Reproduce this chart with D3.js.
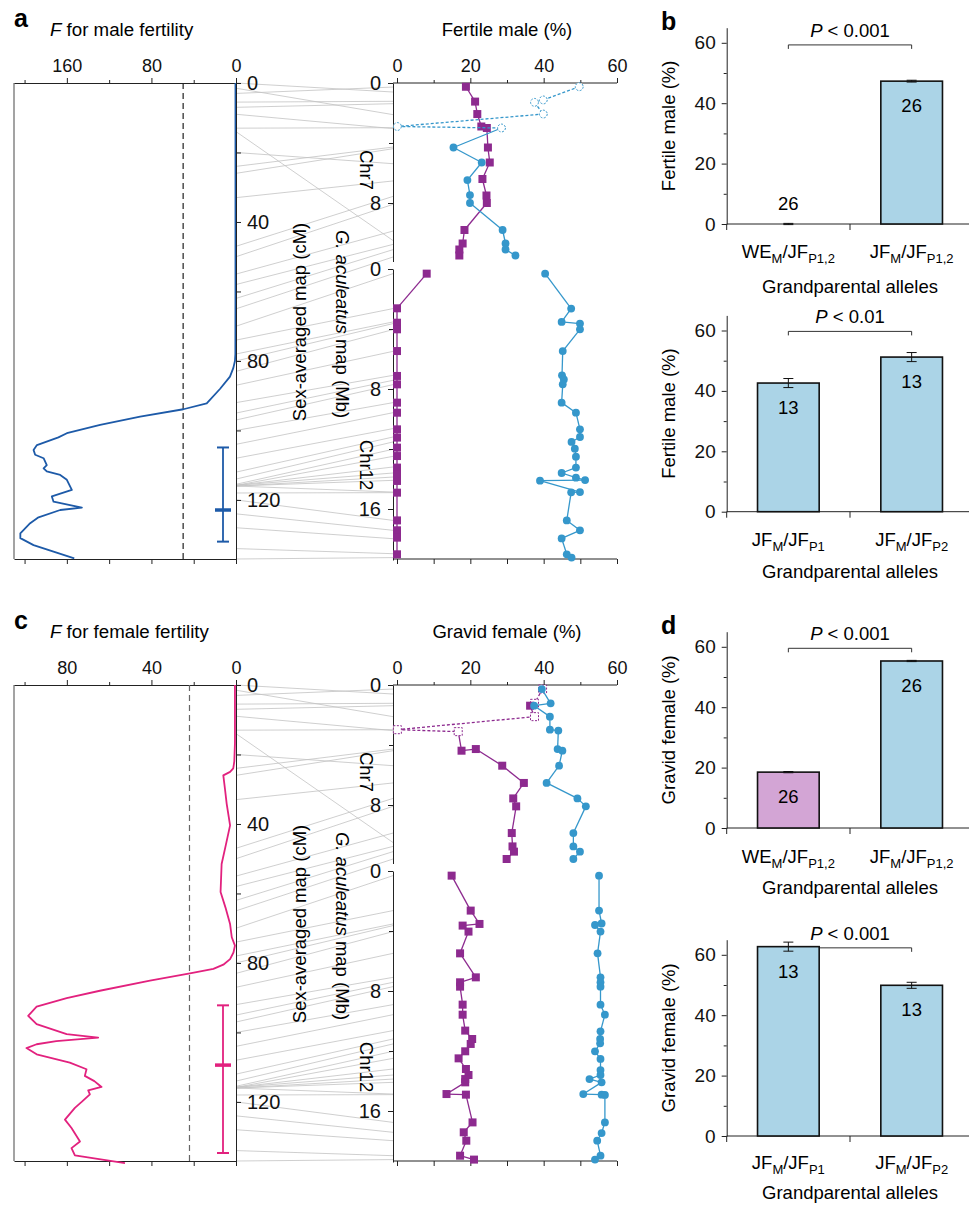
<!DOCTYPE html>
<html>
<head>
<meta charset="utf-8">
<script src="https://cdn.jsdelivr.net/npm/d3@7"></script>
<style>
  body { margin: 0; background: #fff; }
  svg { font-family: "Liberation Sans", Arial, Helvetica, sans-serif; }
</style>
</head>
<body>
<svg id="fig" width="969" height="1205"></svg>
<script>
// ---------- data ----------
// F statistic along the sex-averaged map: [cM, F]
const maleF = [[0,0.5],[20,0.5],[40,0.5],[60,0.5],[78,0.6],[80,1],[82,2.5],[84.5,5.7],[88,15],[92.2,27.7],[93.9,49.8],[96,90.7],[98.4,128.5],[100.8,160],[102,168],[104.2,188.3],[105.6,191.5],[107,190],[108,182],[110,179],[110.9,182],[111.8,179],[112.8,166.3],[114.2,160],[117.1,155.3],[119,174.2],[120.5,172.6],[122.2,145.8],[122.9,166.3],[125,186.8],[126.7,194.7],[129.6,204],[131,204],[133,191.5],[134.9,172.6],[136.8,153]];
const maleThreshold = 50;
const maleInterval = [104.9, 122.9, 132];   // low, peak, high (cM)

const femaleF = [[0,0.5],[16.8,0.5],[22,0.8],[24,1.3],[25,2.8],[26,6],[30,5.2],[34.2,4.4],[40.4,2.8],[46,4.8],[51.5,6.8],[59.6,7.3],[64,5],[68.8,2.8],[72.6,2.0],[75,0.5],[77,1.2],[78.9,2.8],[80.5,6],[81.7,10.7],[83,21.8],[85.1,40.7],[88,64.4],[90.1,80.1],[92.6,94.3],[95.2,98.3],[97.6,94.3],[100.5,80.1],[101.5,65.2],[102.5,85],[103.4,94.3],[104.5,99.1],[106.3,94.3],[108.7,78.6],[110.6,70.7],[112.5,71.5],[114,67],[115.7,63.6],[116.7,69.9],[117.8,69.1],[120,73],[121.7,76.2],[125.1,80.9],[127.5,77.8],[131.4,73.8],[133.3,77.8],[135.4,76.2],[137.6,52.5]];
const femaleThreshold = 22;
const femaleInterval = [92.2, 109.4, 134.7];

// markers: [Mb, cM]
const chr7Markers = [[0.27,3],[0.6,0],[1.22,5.5],[1.38,7],[2.11,1.5],[2.98,13],[3.04,9],[4.27,24],[4.38,26],[5.38,20],[6.53,33],[7.56,47],[8.09,50],[9.87,55],[10.5,14],[10.76,58],[11.11,62],[11.6,65]];
const chr12Markers = [[0.31,70],[2.64,74],[3.53,78],[3.64,80],[4.04,83],[5.49,87],[7.09,92],[7.42,95],[7.71,97],[8.91,100],[9.58,104],[10.64,108],[11.2,112],[11.53,114],[12.02,115.5],[12.49,115.8],[13.2,115.8],[13.6,115.8],[13.87,116],[14.09,116],[14.87,116],[14.91,118],[16.76,120],[17.42,124],[17.98,128],[18.98,134],[19.24,137]];

// fertile male (%) per marker: [Mb, %, open]
const maleChr7Sq = [[0.25,18.8],[1.24,21.3],[2.07,21.9],[2.9,23.0],[3.0,24.5],[4.3,24.8],[5.3,25.3],[6.4,23.3],[7.5,24.4],[8.0,24.5],[9.8,18.4],[10.7,17.9],[11.1,17.0],[11.5,17.0]];
const maleChr7Ci = [[0.25,49.7,1],[1.13,39.9,1],[1.29,37.5,1],[2.07,39.9,1],[2.9,0.1,1],[3.0,28.5,1],[4.3,15.4],[5.3,23.1],[6.47,19.2],[7.47,19.9],[8.0,19.9],[9.8,28.8],[10.7,29.6],[11.1,29.6],[11.5,32.3]];
const maleChr12Sq = [[0.31,8.1],[2.62,0],[3.58,0],[4.02,0],[5.47,0],[7.13,0],[7.69,0],[8.91,0],[9.58,0],[10.69,0],[11.24,0],[11.91,0],[12.47,0],[13.24,0],[13.69,0],[14.13,0],[14.91,0],[16.76,0],[17.42,0],[17.91,0],[19.02,0]];
const maleChr12Ci = [[0.31,40.4],[2.64,47.5],[3.53,44.9],[3.64,49.9],[4.02,49.9],[5.47,45.2],[7.09,45.0],[7.36,45.5],[7.69,45.2],[8.91,44.9],[9.58,48.8],[10.69,49.9],[11.2,49.9],[11.53,47.6],[11.98,48.5],[12.51,48.8],[13.24,48.8],[13.6,44.9],[13.91,48.8],[14.07,51.3],[14.11,39.0],[14.87,49.9],[14.89,47.5],[16.76,46.3],[17.42,49.9],[17.96,44.9],[19.02,46.3],[19.24,47.6]];

// gravid female (%) per marker
const femChr7Sq = [[0.27,39.7,1],[1.22,37.5,1],[1.38,36.3],[2.11,37.5,1],[2.98,0.1,1],[3.11,16.7,1],[4.38,17.6],[4.27,21.5],[5.38,28.7],[6.53,34.6],[7.56,31.7],[8.09,32.5],[9.87,31.3],[10.76,31.5],[11.11,31.9],[11.6,29.9]];
const femChr7Ci = [[0.27,39.5],[1.22,41.9],[1.38,37.4],[2.11,41.7],[2.98,41.7],[3.04,44.0],[4.27,43.8],[4.38,45.1],[5.38,44.2],[6.53,40.8],[7.56,49.2],[8.09,51.5],[9.87,48.1],[10.76,48.1],[11.11,49.9],[11.6,48.1]];
const femChr12Sq = [[0.31,14.9],[2.64,20.1],[3.53,22.5],[3.64,17.9],[4.04,19.5],[5.49,17.2],[7.09,21.5],[7.42,17.2],[7.71,17.2],[8.91,17.9],[9.58,17.9],[10.64,18.6],[11.2,20.5],[11.53,20.1],[12.02,18.6],[12.49,16.8],[13.2,18.8],[13.6,19.5],[13.87,18.6],[14.09,18.6],[14.87,13.5],[14.91,18.8],[16.76,20.6],[17.42,18.2],[17.98,18.9],[18.98,17.2],[19.24,21.0]];
const femChr12Ci = [[0.31,55.1],[2.64,55.1],[3.5,55.8],[3.6,54.0],[4.04,55.5],[5.49,54.7],[7.09,55.5],[7.42,55.5],[7.71,55.5],[8.91,55.5],[9.58,56.7],[10.69,55.5],[11.2,55.4],[11.49,55.4],[12.02,54.0],[12.53,55.5],[13.27,55.5],[13.6,55.5],[13.87,52.5],[14.09,55.8],[14.87,50.8],[14.91,55.8],[14.93,56.7],[16.76,56.7],[17.47,55.8],[17.98,54.6],[18.98,55.5],[19.24,54.0]];

// bar charts
const catsAll = ["WE_{M}/JF_{P1,2}", "JF_{M}/JF_{P1,2}"];
const catsJF = ["JF_{M}/JF_{P1}", "JF_{M}/JF_{P2}"];
const maleAll = [0, 47.3], maleAllErr = [0.2, 0.3], maleAllN = [26, 26];
const maleJF = [42.6, 51.2], maleJFErr = [1.5, 1.5], maleJFN = [13, 13];
const femAll = [18.5, 55.3], femAllErr = [0.2, 0.2], femAllN = [26, 26];
const femJF = [62.7, 49.9], femJFErr = [1.5, 1.0], femJFN = [13, 13];
const pLabels = ["< 0.001", "< 0.01", "< 0.001", "< 0.001"];

// ---------- drawing ----------
const svg = d3.select("#fig");
const PURPLE = "#8d2a8f", BLUE = "#3597cb";

function styleAxis(sel, size) {
  sel.attr("font-size", size).attr("font-family", null);
  sel.selectAll("path, line").attr("stroke", "#222");
  sel.selectAll("text").attr("fill", "#111");
}

function drawSeries(g, pts, ys, px, color, shape) {
  g.append("g").selectAll("line")
    .data(d3.pairs(pts))
    .enter().append("line")
    .attr("x1", d => px(d[0][1])).attr("y1", d => ys(d[0][0]))
    .attr("x2", d => px(d[1][1])).attr("y2", d => ys(d[1][0]))
    .attr("stroke", color).attr("stroke-width", 1.3)
    .attr("stroke-dasharray", d => (d[0][2] && d[1][2]) ? "3,2" : null);
  g.append("g").selectAll("path").data(pts).enter().append("path")
    .attr("transform", d => `translate(${px(d[1])},${ys(d[0])})`)
    .attr("d", shape === "square" ? "M-4,-4H4V4H-4Z" : d3.symbol(d3.symbolCircle, 48)())
    .attr("fill", d => d[2] ? "#fff" : color)
    .attr("stroke", color)
    .attr("stroke-width", d => d[2] ? 1 : 0)
    .attr("stroke-dasharray", d => d[2] ? "2,1.5" : null);
}

function mapPanel(o) {
  const g = svg.append("g");
  const top = o.top, bot = top + 476;
  const fx = d3.scaleLinear().domain([o.fMax, 0]).range([14, 236]);
  const cm = d3.scaleLinear().domain([0, 137]).range([top, bot]);
  const mb7 = d3.scaleLinear().domain([0, 11.9]).range([top, top + 178.5]);
  const mb12 = d3.scaleLinear().domain([0, 19.4]).range([top + 186, top + 477]);
  const px = d3.scaleLinear().domain([0, 60]).range([397, 617]);
  const mbX = 393;

  // connector lines between the two maps
  const links = chr7Markers.map(d => [cm(d[1]), mb7(d[0])])
    .concat(chr12Markers.map(d => [cm(d[1]), mb12(d[0])]));
  g.append("g").selectAll("line").data(links).enter().append("line")
    .attr("x1", 236).attr("x2", mbX)
    .attr("y1", d => d[0]).attr("y2", d => d[1])
    .attr("stroke", "#c3c3c3").attr("stroke-width", 0.8);

  // F frame
  g.append("line").attr("x1", 14).attr("x2", 14).attr("y1", top).attr("y2", bot)
    .attr("stroke", "#666").attr("stroke-width", 1.2);
  const fTop = g.append("g").attr("transform", `translate(0,${top})`)
    .call(d3.axisTop(fx).tickValues(o.fTicks).tickSize(5).tickSizeOuter(0).tickPadding(6));
  styleAxis(fTop, 18);
  const fTopMinor = g.append("g").attr("transform", `translate(0,${top})`)
    .call(d3.axisTop(fx).tickValues(o.fMinor).tickSize(3).tickFormat(""));
  fTopMinor.select(".domain").remove();
  styleAxis(fTopMinor, 18);
  const fBot = g.append("g").attr("transform", `translate(0,${bot})`)
    .call(d3.axisBottom(fx).tickValues(o.fTicks.concat(o.fMinor)).tickSize(5).tickSizeOuter(0).tickFormat(""));
  styleAxis(fBot, 18);

  // threshold
  g.append("line").attr("x1", fx(o.thr)).attr("x2", fx(o.thr)).attr("y1", top).attr("y2", bot)
    .attr("stroke", o.thrColor).attr("stroke-width", 1.2).attr("stroke-dasharray", "6,4");

  // F curve
  g.append("path").datum(o.curve)
    .attr("d", d3.line().x(d => fx(d[1])).y(d => cm(d[0])))
    .attr("fill", "none").attr("stroke", o.color).attr("stroke-width", 1.8)
    .attr("stroke-linejoin", "round");

  // support interval
  const ix = 223;
  const iv = g.append("g").attr("stroke", o.color);
  iv.append("line").attr("x1", ix).attr("x2", ix).attr("y1", cm(o.interval[0])).attr("y2", cm(o.interval[2])).attr("stroke-width", 1.8);
  iv.selectAll(".cap").data([o.interval[0], o.interval[2]]).enter().append("line")
    .attr("x1", ix - 6).attr("x2", ix + 6).attr("y1", d => cm(d)).attr("y2", d => cm(d)).attr("stroke-width", 2);
  iv.append("line").attr("x1", ix - 8).attr("x2", ix + 8).attr("y1", cm(o.interval[1])).attr("y2", cm(o.interval[1])).attr("stroke-width", 3.5);

  // cM axis
  const cmAx = g.append("g").attr("transform", "translate(236,0)")
    .call(d3.axisRight(cm).tickValues([0, 40, 80, 120]).tickSize(5).tickSizeOuter(0).tickPadding(6));
  styleAxis(cmAx, 20);
  const cmMinor = g.append("g").attr("transform", "translate(236,0)")
    .call(d3.axisRight(cm).tickValues([20, 60, 100]).tickSize(5).tickFormat(""));
  cmMinor.select(".domain").remove();
  styleAxis(cmMinor, 20);

  // Mb axes
  [[mb7, [0, 8], [4]], [mb12, [0, 8, 16], [4, 12]]].forEach(([s, maj, min]) => {
    const a = g.append("g").attr("transform", `translate(${mbX},0)`)
      .call(d3.axisLeft(s).tickValues(maj).tickSize(5).tickSizeOuter(0).tickPadding(7));
    styleAxis(a, 20);
    const b = g.append("g").attr("transform", `translate(${mbX},0)`)
      .call(d3.axisLeft(s).tickValues(min).tickSize(4).tickFormat(""));
    b.select(".domain").remove();
    styleAxis(b, 20);
  });

  // percentage axes
  const pTop = g.append("g").attr("transform", `translate(0,${top})`)
    .call(d3.axisTop(px).tickValues([0, 20, 40, 60]).tickSize(5).tickPadding(6));
  pTop.select(".domain").remove();
  styleAxis(pTop, 18);
  const pTopMinor = g.append("g").attr("transform", `translate(0,${top})`)
    .call(d3.axisTop(px).tickValues([10, 30, 50]).tickSize(3).tickFormat(""));
  pTopMinor.select(".domain").remove();
  styleAxis(pTopMinor, 18);
  const pBot = g.append("g").attr("transform", `translate(0,${bot})`)
    .call(d3.axisBottom(px).tickValues(d3.range(0, 61, 10)).tickSize(5).tickFormat(""));
  pBot.select(".domain").remove();
  styleAxis(pBot, 18);
  [top, bot].forEach(y => g.append("line").attr("x1", mbX).attr("x2", px(60)).attr("y1", y).attr("y2", y).attr("stroke", "#222"));

  // series
  drawSeries(g, o.sq7, mb7, px, PURPLE, "square");
  drawSeries(g, o.ci7, mb7, px, BLUE, "circle");
  drawSeries(g, o.sq12, mb12, px, PURPLE, "square");
  drawSeries(g, o.ci12, mb12, px, BLUE, "circle");

  // labels
  g.append("text").attr("x", 14).attr("y", top - 56).attr("font-size", 25).attr("font-weight", "bold").text(o.letter);
  const t = g.append("text").attr("x", 50).attr("y", top - 47).attr("font-size", 18.7);
  t.append("tspan").attr("font-style", "italic").text("F");
  t.append("tspan").text(o.fTitle);
  g.append("text").attr("x", 507).attr("y", top - 47).attr("font-size", 18.5).attr("text-anchor", "middle").text(o.pTitle);
  g.append("text").attr("transform", `translate(306,${top + 239}) rotate(-90)`)
    .attr("font-size", 18.5).attr("text-anchor", "middle").text("Sex-averaged map (cM)");
  const gt = g.append("text").attr("transform", `translate(336,${top + 241}) rotate(90)`)
    .attr("font-size", 18.5).attr("text-anchor", "middle");
  gt.append("tspan").attr("font-style", "italic").text("G. aculeatus");
  gt.append("tspan").text(" map (Mb)");
  g.append("text").attr("transform", `translate(360,${top + 87}) rotate(90)`)
    .attr("font-size", 18.5).attr("text-anchor", "middle").text("Chr7");
  g.append("text").attr("transform", `translate(360,${top + 382}) rotate(90)`)
    .attr("font-size", 18.5).attr("text-anchor", "middle").text("Chr12");
}

function subLabel(text, str) {
  const parts = str.split(/_\{([^}]*)\}/);
  let shifted = false;
  parts.forEach((p, i) => {
    if (!p) return;
    const sub = i % 2 === 1;
    const ts = text.append("tspan").text(p);
    if (sub && !shifted) { ts.attr("dy", 5).attr("font-size", 13); shifted = true; }
    else if (sub) { ts.attr("font-size", 13); }
    else if (shifted) { ts.attr("dy", -5); shifted = false; }
  });
}

function barPanel(o) {
  const g = svg.append("g");
  const y = d3.scaleLinear().domain([0, 65]).range([o.y0, o.y0 - 65 * 3.02]);
  const x = d3.scaleBand().domain(o.cats).range([726.7, 973.3]).paddingInner(0.5).paddingOuter(0.25);
  const rows = o.cats.map((c, i) => ({ c, v: o.vals[i], e: o.errs[i], n: o.ns[i], fill: o.fills[i] }));

  const ax = g.append("g").attr("transform", "translate(726.7,0)")
    .call(d3.axisLeft(y).tickValues([0, 20, 40, 60]).tickSize(5).tickSizeOuter(0).tickPadding(6));
  styleAxis(ax, 19);
  const axm = g.append("g").attr("transform", "translate(726.7,0)")
    .call(d3.axisLeft(y).tickValues([10, 30, 50]).tickSize(3).tickFormat(""));
  axm.select(".domain").remove();
  styleAxis(axm, 19);

  // x axis line and separators
  g.append("line").attr("x1", 726.7).attr("x2", 969).attr("y1", o.y0).attr("y2", o.y0).attr("stroke", "#222");
  g.selectAll(".sep").data([726.7, (x(o.cats[0]) + x(o.cats[1]) + x.bandwidth()) / 2]).enter().append("line")
    .attr("x1", d => d).attr("x2", d => d).attr("y1", o.y0).attr("y2", o.y0 + 6).attr("stroke", "#222");

  // significance bracket (drawn first, bars sit over it)
  const x1 = x(o.cats[0]) + x.bandwidth() / 2, x2 = x(o.cats[1]) + x.bandwidth() / 2, yb = y(o.pAt);
  g.append("path").attr("d", `M${x1},${yb + 4}V${yb}H${x2}V${yb + 4}`)
    .attr("fill", "none").attr("stroke", "#333").attr("stroke-width", 1);
  const pt = g.append("text").attr("x", (x1 + x2) / 2).attr("y", yb - 8).attr("font-size", 18.5).attr("text-anchor", "middle");
  pt.append("tspan").attr("font-style", "italic").text("P");
  pt.append("tspan").text(" " + o.p);

  g.selectAll(".bar").data(rows).enter().append("rect")
    .attr("x", d => x(d.c)).attr("width", x.bandwidth())
    .attr("y", d => y(d.v)).attr("height", d => y(0) - y(d.v))
    .attr("fill", d => d.fill).attr("stroke", "#111").attr("stroke-width", 1.6);

  // error bars
  const eb = g.selectAll(".eb").data(rows).enter().append("g").attr("stroke", "#111").attr("stroke-width", 1);
  eb.append("line").attr("x1", d => x(d.c) + x.bandwidth() / 2).attr("x2", d => x(d.c) + x.bandwidth() / 2)
    .attr("y1", d => y(d.v - d.e)).attr("y2", d => y(d.v + d.e));
  eb.selectAll(".cap").data(d => [d.v - d.e, d.v + d.e].map(v => ({ c: d.c, v }))).enter().append("line")
    .attr("x1", d => x(d.c) + x.bandwidth() / 2 - 5).attr("x2", d => x(d.c) + x.bandwidth() / 2 + 5)
    .attr("y1", d => y(d.v)).attr("y2", d => y(d.v));

  // n labels
  g.selectAll(".n").data(rows).enter().append("text")
    .attr("x", d => x(d.c) + x.bandwidth() / 2)
    .attr("y", d => d.v < 5 ? y(0) - 14 : y(d.v) + 31)
    .attr("font-size", 18.5).attr("text-anchor", "middle").text(d => d.n);

  // category labels
  rows.forEach(d => {
    const t = g.append("text").attr("x", x(d.c) + x.bandwidth() / 2).attr("y", o.y0 + o.labDy)
      .attr("font-size", 18.5).attr("text-anchor", "middle");
    subLabel(t, d.c);
  });
  g.append("text").attr("x", (x1 + x2) / 2).attr("y", o.y0 + o.titleDy).attr("font-size", 18.5)
    .attr("text-anchor", "middle").text("Grandparental alleles");
  g.append("text").attr("transform", `translate(675,${(y(0) + y(65)) / 2}) rotate(-90)`)
    .attr("font-size", 18.5).attr("text-anchor", "middle").text(o.yTitle);
  if (o.letter) {
    g.append("text").attr("x", 661).attr("y", o.y0 - 194).attr("font-size", 25)
      .attr("font-weight", "bold").text(o.letter);
  }
}

mapPanel({
  top: 83, letter: "a", fMax: 210, fTicks: [160, 80, 0], fMinor: [200, 120, 40],
  curve: maleF, thr: maleThreshold, thrColor: "#222", interval: maleInterval, color: "#1d5aa8",
  fTitle: " for male fertility", pTitle: "Fertile male (%)",
  sq7: maleChr7Sq, ci7: maleChr7Ci, sq12: maleChr12Sq, ci12: maleChr12Ci
});
mapPanel({
  top: 685, letter: "c", fMax: 105, fTicks: [80, 40, 0], fMinor: [100, 60, 20],
  curve: femaleF, thr: femaleThreshold, thrColor: "#666", interval: femaleInterval, color: "#e2217e",
  fTitle: " for female fertility", pTitle: "Gravid female (%)",
  sq7: femChr7Sq, ci7: femChr7Ci, sq12: femChr12Sq, ci12: femChr12Ci
});

barPanel({ y0: 224, letter: "b", cats: catsAll, vals: maleAll, errs: maleAllErr, ns: maleAllN,
  fills: ["#abd4e7", "#abd4e7"], p: pLabels[0], pAt: 59.3, labDy: 34, titleDy: 69, yTitle: "Fertile male (%)" });
barPanel({ y0: 511.7, cats: catsJF, vals: maleJF, errs: maleJFErr, ns: maleJFN,
  fills: ["#abd4e7", "#abd4e7"], p: pLabels[1], pAt: 59.7, labDy: 34, titleDy: 66, yTitle: "Fertile male (%)" });
barPanel({ y0: 828, letter: "d", cats: catsAll, vals: femAll, errs: femAllErr, ns: femAllN,
  fills: ["#d3a5d5", "#abd4e7"], p: pLabels[2], pAt: 59.5, labDy: 35, titleDy: 66, yTitle: "Gravid female (%)" });
barPanel({ y0: 1136, cats: catsJF, vals: femJF, errs: femJFErr, ns: femJFN,
  fills: ["#abd4e7", "#abd4e7"], p: pLabels[3], pAt: 62.3, labDy: 33, titleDy: 63, yTitle: "Gravid female (%)" });
</script>
</body>
</html>
